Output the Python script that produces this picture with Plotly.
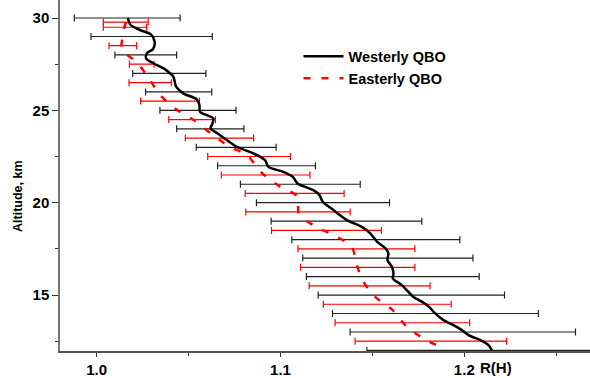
import plotly.graph_objects as go

# Westerly QBO mean profile (R(H) vs altitude, km)
west_alt = [30.0, 29.62, 29.35, 29.08, 28.63, 28.3, 28.12, 27.82, 27.55, 27.22, 26.82, 26.28,
            25.92, 25.6, 25.29, 24.92, 24.56, 24.2, 24.02, 23.75, 23.39, 23.03, 22.67, 22.31,
            21.94, 21.67, 21.4, 21.04, 20.68, 20.41, 20.05, 19.6, 19.06, 18.69, 18.34, 17.88,
            17.52, 17.25, 16.89, 16.53, 16.17, 15.9, 15.54, 15.17, 14.9, 14.63, 14.36, 14.1,
            13.64, 13.37, 13.1, 12.83, 12.56, 12.29, 12.02]
west_r = [1.0169, 1.0185, 1.0236, 1.0299, 1.0316, 1.0305, 1.0275, 1.0268, 1.0308, 1.0372, 1.0417, 1.0432,
          1.0471, 1.0544, 1.0559, 1.0562, 1.0635, 1.0626, 1.0619, 1.0658, 1.0708, 1.0762, 1.0852, 1.0916,
          1.0934, 1.1016, 1.1067, 1.1093, 1.1179, 1.1212, 1.1230, 1.1288, 1.1361, 1.1443, 1.1488, 1.1526,
          1.1572, 1.1587, 1.1582, 1.1606, 1.1615, 1.1611, 1.1660, 1.1696, 1.1723, 1.1771, 1.1809, 1.1832,
          1.1887, 1.1941, 1.1987, 1.2023, 1.2087, 1.2132, 1.2150]

# Easterly QBO mean profile
east_alt = [29.78, 29.26, 28.8, 28.27, 27.6, 26.64, 25.83, 25.1, 24.5, 23.75, 23.07, 22.58,
            21.62, 20.9, 20.34, 19.4, 18.69, 18.25, 17.61, 16.62, 15.72, 14.9, 14.22, 13.28,
            12.6, 12.11]
east_r = [1.0160, 1.0143, 1.0138, 1.0136, 1.0219, 1.0290, 1.0345, 1.0426, 1.0524, 1.0621, 1.0716, 1.0817,
          1.0898, 1.0992, 1.1090, 1.1101, 1.1194, 1.1288, 1.1388, 1.1415, 1.1451, 1.1515, 1.1606, 1.1688,
          1.1787, 1.1887]

# Westerly error bars (integer km)
west_bar_alt = [30, 29, 28, 27, 26, 25, 24, 23, 22, 21, 20, 19, 18, 17, 16, 15, 14, 13, 12]
west_bar_r = [1.0166, 1.0299, 1.0267, 1.0395, 1.0446, 1.0551, 1.0618, 1.0759, 1.0924, 1.1108,
              1.1231, 1.1359, 1.1519, 1.1584, 1.1611, 1.1712, 1.1843, 1.1992, 1.2150]
west_bar_err = [0.0288, 0.0330, 0.0168, 0.0199, 0.0180, 0.0207, 0.0183, 0.0217, 0.0266, 0.0326,
                0.0362, 0.0410, 0.0457, 0.0463, 0.0470, 0.0507, 0.0560, 0.0613, 0.0680]

# Easterly error bars (half km)
east_bar_alt = [29.78, 29.5, 28.5, 27.5, 26.5, 25.5, 24.5, 23.5, 22.5, 21.5, 20.5, 19.5, 18.5,
                17.5, 16.5, 15.5, 14.5, 13.5, 12.5]
east_bar_r = [1.0158, 1.0154, 1.0142, 1.0245, 1.0291, 1.0399, 1.0519, 1.0668, 1.0829, 1.0919,
              1.1077, 1.1095, 1.1250, 1.1413, 1.1420, 1.1485, 1.1581, 1.1663, 1.1818]
east_bar_err = [0.0122, 0.0118, 0.0075, 0.0067, 0.0115, 0.0160, 0.0127, 0.0186, 0.0225, 0.0241,
                0.0269, 0.0284, 0.0299, 0.0318, 0.0311, 0.0329, 0.0348, 0.0366, 0.0412]

x_ticks = [1.0, 1.1, 1.2]
x_ticktext = ["1.0", "1.1", "1.2"]
y_ticks = [15, 20, 25, 30]

FONT = "Arial, Liberation Sans, sans-serif"

fig = go.Figure()

fig.add_trace(go.Scatter(
    x=west_bar_r, y=west_bar_alt, mode="markers", showlegend=False,
    marker=dict(size=1, opacity=0),
    error_x=dict(type="data", array=west_bar_err, symmetric=True, color="#222222",
                 thickness=1.2, width=3.5),
    hoverinfo="skip"))
fig.add_trace(go.Scatter(
    x=east_bar_r, y=east_bar_alt, mode="markers", showlegend=False,
    marker=dict(size=1, opacity=0),
    error_x=dict(type="data", array=east_bar_err, symmetric=True, color="#ff0000",
                 thickness=1.2, width=3.5),
    hoverinfo="skip"))

fig.add_trace(go.Scatter(
    x=west_r, y=west_alt, mode="lines", name="Westerly QBO",
    line=dict(color="black", width=2.5, shape="spline", smoothing=0.8)))
fig.add_trace(go.Scatter(
    x=east_r, y=east_alt, mode="lines", name="Easterly QBO",
    line=dict(color="#ff0000", width=2.5, dash="7px,11px", shape="spline", smoothing=0.8)))

fig.update_layout(
    width=590, height=378,
    margin=dict(l=60, r=0, t=0, b=27),
    paper_bgcolor="white", plot_bgcolor="white",
    font=dict(family=FONT, color="black"),
    legend=dict(x=0.45, y=0.885, xanchor="left", yanchor="top",
                bgcolor="rgba(0,0,0,0)", font=dict(size=14.5, weight="bold"),
                itemwidth=40, tracegroupgap=0),
    xaxis=dict(range=[0.98003, 1.2684], showgrid=False, zeroline=False,
               showline=True, linecolor="#555555", linewidth=2,
               ticks="outside", ticklen=4, tickcolor="#333333", tickwidth=1,
               tickvals=x_ticks, ticktext=x_ticktext,
               tickfont=dict(size=15, weight="bold", family=FONT),
               minor=dict(dtick=0.1, tick0=1.05, ticks="outside", ticklen=3,
                          tickcolor="#333333", tickwidth=1)),
    yaxis=dict(range=[11.97, 30.975], showgrid=False, zeroline=False,
               showline=True, linecolor="#777777", linewidth=1.5,
               ticks="outside", ticklen=6, tickcolor="#333333", tickwidth=1,
               tickvals=y_ticks,
               tickfont=dict(size=15, weight="bold", family=FONT),
               minor=dict(dtick=5, tick0=12.5, ticks="outside", ticklen=3,
                          tickcolor="#333333", tickwidth=1)),
    annotations=[
        dict(text="R(H)", x=1.2172, y=0, xref="x", yref="paper", yshift=-16,
             xanchor="center", yanchor="middle", showarrow=False,
             font=dict(size=15, weight="bold", family=FONT)),
        dict(text="Altitude, km", x=(18 - 60) / 530, y=(351 - 196) / 351,
             xref="paper", yref="paper",
             showarrow=False, textangle=-90, xanchor="center", yanchor="middle",
             font=dict(size=12.5, weight="bold", family=FONT)),
    ],
)

fig.write_html("out.html", config={"displayModeBar": False},
               post_script="document.body.style.margin='0';")
